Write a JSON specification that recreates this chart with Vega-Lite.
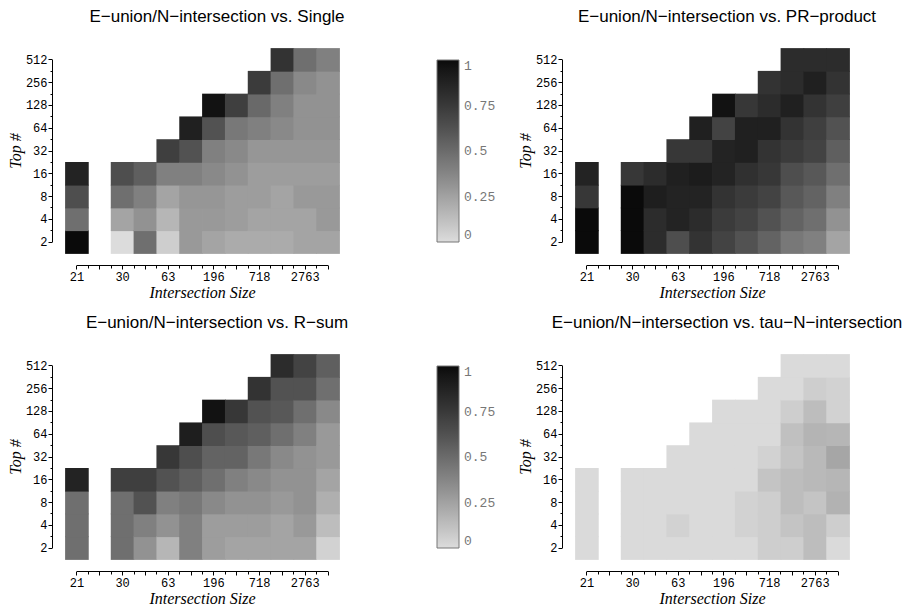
{
  "$schema": "https://vega.github.io/schema/vega-lite/v6.json",
  "background": "white",
  "padding": {"left": 7, "top": 8, "right": 4, "bottom": 4},
  "bounds": "flush",
  "columns": 2,
  "spacing": {"row": 101, "column": 236},
  "config": {
    "view": {"stroke": null},
    "rect": {"binSpacing": 0},
    "title": {"font": "Liberation Sans", "fontSize": 17, "fontWeight": "normal", "color": "black", "dx": 15, "offset": 22, "frame": "group"},
    "axis": {
      "grid": false,
      "domainColor": "black",
      "tickColor": "black",
      "labelColor": "black",
      "labelFont": "Liberation Mono",
      "labelFontSize": 12,
      "titleFont": "Liberation Serif",
      "titleFontStyle": "italic",
      "titleFontWeight": "normal",
      "titleFontSize": 16,
      "titleColor": "black",
      "labelOverlap": false,
      "labelFlush": false
    },
    "axisX": {"offset": 12, "labelPadding": 2, "titlePadding": 2},
    "axisY": {"offset": 13, "labelPadding": 1, "titlePadding": 2},
    "legend": {"labelFont": "Liberation Mono", "labelFontSize": 13, "labelColor": "#777777"}
  },
  "data": {"values": [
    {"p":"s","c":1,"r":1,"v":1.0},{"p":"s","c":1,"r":2,"v":0.48},{"p":"s","c":1,"r":3,"v":0.64},{"p":"s","c":1,"r":4,"v":0.87},
    {"p":"s","c":3,"r":1,"v":0.0},{"p":"s","c":3,"r":2,"v":0.24},{"p":"s","c":3,"r":3,"v":0.48},{"p":"s","c":3,"r":4,"v":0.64},
    {"p":"s","c":4,"r":1,"v":0.48},{"p":"s","c":4,"r":2,"v":0.32},{"p":"s","c":4,"r":3,"v":0.40},{"p":"s","c":4,"r":4,"v":0.56},
    {"p":"s","c":5,"r":1,"v":0.06},{"p":"s","c":5,"r":2,"v":0.16},{"p":"s","c":5,"r":3,"v":0.24},{"p":"s","c":5,"r":4,"v":0.40},{"p":"s","c":5,"r":5,"v":0.72},
    {"p":"s","c":6,"r":1,"v":0.29},{"p":"s","c":6,"r":2,"v":0.29},{"p":"s","c":6,"r":3,"v":0.30},{"p":"s","c":6,"r":4,"v":0.40},{"p":"s","c":6,"r":5,"v":0.62},{"p":"s","c":6,"r":6,"v":0.89},
    {"p":"s","c":7,"r":1,"v":0.24},{"p":"s","c":7,"r":2,"v":0.29},{"p":"s","c":7,"r":3,"v":0.30},{"p":"s","c":7,"r":4,"v":0.36},{"p":"s","c":7,"r":5,"v":0.40},{"p":"s","c":7,"r":6,"v":0.62},{"p":"s","c":7,"r":7,"v":0.97},
    {"p":"s","c":8,"r":1,"v":0.21},{"p":"s","c":8,"r":2,"v":0.27},{"p":"s","c":8,"r":3,"v":0.27},{"p":"s","c":8,"r":4,"v":0.32},{"p":"s","c":8,"r":5,"v":0.36},{"p":"s","c":8,"r":6,"v":0.44},{"p":"s","c":8,"r":7,"v":0.72},
    {"p":"s","c":9,"r":1,"v":0.21},{"p":"s","c":9,"r":2,"v":0.24},{"p":"s","c":9,"r":3,"v":0.27},{"p":"s","c":9,"r":4,"v":0.27},{"p":"s","c":9,"r":5,"v":0.30},{"p":"s","c":9,"r":6,"v":0.40},{"p":"s","c":9,"r":7,"v":0.51},{"p":"s","c":9,"r":8,"v":0.74},
    {"p":"s","c":10,"r":1,"v":0.21},{"p":"s","c":10,"r":2,"v":0.24},{"p":"s","c":10,"r":3,"v":0.24},{"p":"s","c":10,"r":4,"v":0.27},{"p":"s","c":10,"r":5,"v":0.30},{"p":"s","c":10,"r":6,"v":0.36},{"p":"s","c":10,"r":7,"v":0.40},{"p":"s","c":10,"r":8,"v":0.48},{"p":"s","c":10,"r":9,"v":0.78},
    {"p":"s","c":11,"r":1,"v":0.24},{"p":"s","c":11,"r":2,"v":0.24},{"p":"s","c":11,"r":3,"v":0.29},{"p":"s","c":11,"r":4,"v":0.27},{"p":"s","c":11,"r":5,"v":0.30},{"p":"s","c":11,"r":6,"v":0.32},{"p":"s","c":11,"r":7,"v":0.32},{"p":"s","c":11,"r":8,"v":0.36},{"p":"s","c":11,"r":9,"v":0.48},
    {"p":"s","c":12,"r":1,"v":0.24},{"p":"s","c":12,"r":2,"v":0.29},{"p":"s","c":12,"r":3,"v":0.29},{"p":"s","c":12,"r":4,"v":0.27},{"p":"s","c":12,"r":5,"v":0.30},{"p":"s","c":12,"r":6,"v":0.32},{"p":"s","c":12,"r":7,"v":0.32},{"p":"s","c":12,"r":8,"v":0.32},{"p":"s","c":12,"r":9,"v":0.40},

    {"p":"pr","c":1,"r":1,"v":1.0},{"p":"pr","c":1,"r":2,"v":1.0},{"p":"pr","c":1,"r":3,"v":0.76},{"p":"pr","c":1,"r":4,"v":0.87},
    {"p":"pr","c":3,"r":1,"v":1.0},{"p":"pr","c":3,"r":2,"v":1.0},{"p":"pr","c":3,"r":3,"v":1.0},{"p":"pr","c":3,"r":4,"v":0.76},
    {"p":"pr","c":4,"r":1,"v":0.82},{"p":"pr","c":4,"r":2,"v":0.82},{"p":"pr","c":4,"r":3,"v":0.90},{"p":"pr","c":4,"r":4,"v":0.82},
    {"p":"pr","c":5,"r":1,"v":0.64},{"p":"pr","c":5,"r":2,"v":0.87},{"p":"pr","c":5,"r":3,"v":0.87},{"p":"pr","c":5,"r":4,"v":0.89},{"p":"pr","c":5,"r":5,"v":0.76},
    {"p":"pr","c":6,"r":1,"v":0.78},{"p":"pr","c":6,"r":2,"v":0.82},{"p":"pr","c":6,"r":3,"v":0.87},{"p":"pr","c":6,"r":4,"v":0.91},{"p":"pr","c":6,"r":5,"v":0.76},{"p":"pr","c":6,"r":6,"v":0.89},
    {"p":"pr","c":7,"r":1,"v":0.70},{"p":"pr","c":7,"r":2,"v":0.74},{"p":"pr","c":7,"r":3,"v":0.78},{"p":"pr","c":7,"r":4,"v":0.87},{"p":"pr","c":7,"r":5,"v":0.87},{"p":"pr","c":7,"r":6,"v":0.70},{"p":"pr","c":7,"r":7,"v":0.97},
    {"p":"pr","c":8,"r":1,"v":0.62},{"p":"pr","c":8,"r":2,"v":0.70},{"p":"pr","c":8,"r":3,"v":0.74},{"p":"pr","c":8,"r":4,"v":0.80},{"p":"pr","c":8,"r":5,"v":0.89},{"p":"pr","c":8,"r":6,"v":0.89},{"p":"pr","c":8,"r":7,"v":0.76},
    {"p":"pr","c":9,"r":1,"v":0.54},{"p":"pr","c":9,"r":2,"v":0.62},{"p":"pr","c":9,"r":3,"v":0.70},{"p":"pr","c":9,"r":4,"v":0.76},{"p":"pr","c":9,"r":5,"v":0.78},{"p":"pr","c":9,"r":6,"v":0.89},{"p":"pr","c":9,"r":7,"v":0.82},{"p":"pr","c":9,"r":8,"v":0.78},
    {"p":"pr","c":10,"r":1,"v":0.44},{"p":"pr","c":10,"r":2,"v":0.54},{"p":"pr","c":10,"r":3,"v":0.59},{"p":"pr","c":10,"r":4,"v":0.64},{"p":"pr","c":10,"r":5,"v":0.74},{"p":"pr","c":10,"r":6,"v":0.78},{"p":"pr","c":10,"r":7,"v":0.89},{"p":"pr","c":10,"r":8,"v":0.82},{"p":"pr","c":10,"r":9,"v":0.82},
    {"p":"pr","c":11,"r":1,"v":0.40},{"p":"pr","c":11,"r":2,"v":0.48},{"p":"pr","c":11,"r":3,"v":0.54},{"p":"pr","c":11,"r":4,"v":0.59},{"p":"pr","c":11,"r":5,"v":0.70},{"p":"pr","c":11,"r":6,"v":0.72},{"p":"pr","c":11,"r":7,"v":0.78},{"p":"pr","c":11,"r":8,"v":0.89},{"p":"pr","c":11,"r":9,"v":0.82},
    {"p":"pr","c":12,"r":1,"v":0.24},{"p":"pr","c":12,"r":2,"v":0.32},{"p":"pr","c":12,"r":3,"v":0.40},{"p":"pr","c":12,"r":4,"v":0.48},{"p":"pr","c":12,"r":5,"v":0.56},{"p":"pr","c":12,"r":6,"v":0.62},{"p":"pr","c":12,"r":7,"v":0.72},{"p":"pr","c":12,"r":8,"v":0.78},{"p":"pr","c":12,"r":9,"v":0.82},

    {"p":"rs","c":1,"r":1,"v":0.48},{"p":"rs","c":1,"r":2,"v":0.48},{"p":"rs","c":1,"r":3,"v":0.48},{"p":"rs","c":1,"r":4,"v":0.87},
    {"p":"rs","c":3,"r":1,"v":0.48},{"p":"rs","c":3,"r":2,"v":0.48},{"p":"rs","c":3,"r":3,"v":0.48},{"p":"rs","c":3,"r":4,"v":0.72},
    {"p":"rs","c":4,"r":1,"v":0.32},{"p":"rs","c":4,"r":2,"v":0.40},{"p":"rs","c":4,"r":3,"v":0.62},{"p":"rs","c":4,"r":4,"v":0.72},
    {"p":"rs","c":5,"r":1,"v":0.16},{"p":"rs","c":5,"r":2,"v":0.32},{"p":"rs","c":5,"r":3,"v":0.40},{"p":"rs","c":5,"r":4,"v":0.62},{"p":"rs","c":5,"r":5,"v":0.76},
    {"p":"rs","c":6,"r":1,"v":0.40},{"p":"rs","c":6,"r":2,"v":0.40},{"p":"rs","c":6,"r":3,"v":0.44},{"p":"rs","c":6,"r":4,"v":0.56},{"p":"rs","c":6,"r":5,"v":0.64},{"p":"rs","c":6,"r":6,"v":0.90},
    {"p":"rs","c":7,"r":1,"v":0.27},{"p":"rs","c":7,"r":2,"v":0.27},{"p":"rs","c":7,"r":3,"v":0.36},{"p":"rs","c":7,"r":4,"v":0.48},{"p":"rs","c":7,"r":5,"v":0.54},{"p":"rs","c":7,"r":6,"v":0.64},{"p":"rs","c":7,"r":7,"v":0.97},
    {"p":"rs","c":8,"r":1,"v":0.24},{"p":"rs","c":8,"r":2,"v":0.27},{"p":"rs","c":8,"r":3,"v":0.32},{"p":"rs","c":8,"r":4,"v":0.40},{"p":"rs","c":8,"r":5,"v":0.54},{"p":"rs","c":8,"r":6,"v":0.59},{"p":"rs","c":8,"r":7,"v":0.76},
    {"p":"rs","c":9,"r":1,"v":0.24},{"p":"rs","c":9,"r":2,"v":0.27},{"p":"rs","c":9,"r":3,"v":0.32},{"p":"rs","c":9,"r":4,"v":0.36},{"p":"rs","c":9,"r":5,"v":0.44},{"p":"rs","c":9,"r":6,"v":0.56},{"p":"rs","c":9,"r":7,"v":0.62},{"p":"rs","c":9,"r":8,"v":0.78},
    {"p":"rs","c":10,"r":1,"v":0.24},{"p":"rs","c":10,"r":2,"v":0.24},{"p":"rs","c":10,"r":3,"v":0.29},{"p":"rs","c":10,"r":4,"v":0.32},{"p":"rs","c":10,"r":5,"v":0.36},{"p":"rs","c":10,"r":6,"v":0.48},{"p":"rs","c":10,"r":7,"v":0.59},{"p":"rs","c":10,"r":8,"v":0.62},{"p":"rs","c":10,"r":9,"v":0.82},
    {"p":"rs","c":11,"r":1,"v":0.24},{"p":"rs","c":11,"r":2,"v":0.29},{"p":"rs","c":11,"r":3,"v":0.32},{"p":"rs","c":11,"r":4,"v":0.32},{"p":"rs","c":11,"r":5,"v":0.32},{"p":"rs","c":11,"r":6,"v":0.40},{"p":"rs","c":11,"r":7,"v":0.48},{"p":"rs","c":11,"r":8,"v":0.62},{"p":"rs","c":11,"r":9,"v":0.70},
    {"p":"rs","c":12,"r":1,"v":0.04},{"p":"rs","c":12,"r":2,"v":0.13},{"p":"rs","c":12,"r":3,"v":0.19},{"p":"rs","c":12,"r":4,"v":0.24},{"p":"rs","c":12,"r":5,"v":0.29},{"p":"rs","c":12,"r":6,"v":0.29},{"p":"rs","c":12,"r":7,"v":0.36},{"p":"rs","c":12,"r":8,"v":0.48},{"p":"rs","c":12,"r":9,"v":0.56},

    {"p":"tau","c":1,"r":1,"v":0.01},{"p":"tau","c":1,"r":2,"v":0.01},{"p":"tau","c":1,"r":3,"v":0.01},{"p":"tau","c":1,"r":4,"v":0.01},
    {"p":"tau","c":3,"r":1,"v":0.01},{"p":"tau","c":3,"r":2,"v":0.01},{"p":"tau","c":3,"r":3,"v":0.01},{"p":"tau","c":3,"r":4,"v":0.01},
    {"p":"tau","c":4,"r":1,"v":0.01},{"p":"tau","c":4,"r":2,"v":0.01},{"p":"tau","c":4,"r":3,"v":0.01},{"p":"tau","c":4,"r":4,"v":0.01},
    {"p":"tau","c":5,"r":1,"v":0.01},{"p":"tau","c":5,"r":2,"v":0.04},{"p":"tau","c":5,"r":3,"v":0.01},{"p":"tau","c":5,"r":4,"v":0.01},{"p":"tau","c":5,"r":5,"v":0.01},
    {"p":"tau","c":6,"r":1,"v":0.01},{"p":"tau","c":6,"r":2,"v":0.01},{"p":"tau","c":6,"r":3,"v":0.01},{"p":"tau","c":6,"r":4,"v":0.01},{"p":"tau","c":6,"r":5,"v":0.01},{"p":"tau","c":6,"r":6,"v":0.01},
    {"p":"tau","c":7,"r":1,"v":0.01},{"p":"tau","c":7,"r":2,"v":0.01},{"p":"tau","c":7,"r":3,"v":0.01},{"p":"tau","c":7,"r":4,"v":0.01},{"p":"tau","c":7,"r":5,"v":0.01},{"p":"tau","c":7,"r":6,"v":0.01},{"p":"tau","c":7,"r":7,"v":0.01},
    {"p":"tau","c":8,"r":1,"v":0.01},{"p":"tau","c":8,"r":2,"v":0.04},{"p":"tau","c":8,"r":3,"v":0.04},{"p":"tau","c":8,"r":4,"v":0.01},{"p":"tau","c":8,"r":5,"v":0.01},{"p":"tau","c":8,"r":6,"v":0.01},{"p":"tau","c":8,"r":7,"v":0.01},
    {"p":"tau","c":9,"r":1,"v":0.06},{"p":"tau","c":9,"r":2,"v":0.06},{"p":"tau","c":9,"r":3,"v":0.06},{"p":"tau","c":9,"r":4,"v":0.10},{"p":"tau","c":9,"r":5,"v":0.04},{"p":"tau","c":9,"r":6,"v":0.01},{"p":"tau","c":9,"r":7,"v":0.01},{"p":"tau","c":9,"r":8,"v":0.01},
    {"p":"tau","c":10,"r":1,"v":0.06},{"p":"tau","c":10,"r":2,"v":0.10},{"p":"tau","c":10,"r":3,"v":0.13},{"p":"tau","c":10,"r":4,"v":0.13},{"p":"tau","c":10,"r":5,"v":0.10},{"p":"tau","c":10,"r":6,"v":0.12},{"p":"tau","c":10,"r":7,"v":0.06},{"p":"tau","c":10,"r":8,"v":0.01},{"p":"tau","c":10,"r":9,"v":0.01},
    {"p":"tau","c":11,"r":1,"v":0.13},{"p":"tau","c":11,"r":2,"v":0.13},{"p":"tau","c":11,"r":3,"v":0.10},{"p":"tau","c":11,"r":4,"v":0.15},{"p":"tau","c":11,"r":5,"v":0.15},{"p":"tau","c":11,"r":6,"v":0.17},{"p":"tau","c":11,"r":7,"v":0.13},{"p":"tau","c":11,"r":8,"v":0.06},{"p":"tau","c":11,"r":9,"v":0.01},
    {"p":"tau","c":12,"r":1,"v":0.01},{"p":"tau","c":12,"r":2,"v":0.06},{"p":"tau","c":12,"r":3,"v":0.18},{"p":"tau","c":12,"r":4,"v":0.16},{"p":"tau","c":12,"r":5,"v":0.23},{"p":"tau","c":12,"r":6,"v":0.16},{"p":"tau","c":12,"r":7,"v":0.04},{"p":"tau","c":12,"r":8,"v":0.04},{"p":"tau","c":12,"r":9,"v":0.01}
  ]},
  "resolve": {"scale": {"color": "independent"}, "legend": {"color": "independent"}},
  "concat": [
    {
      "width": 274, "height": 205,
      "title": "E−union/N−intersection vs. Single",
      "transform": [{"filter": "datum.p == 's'"}],
      "mark": {"type": "rect", "binSpacing": 0, "xOffset": 0.4, "x2Offset": -0.4, "yOffset": -0.4, "y2Offset": 0.4},
      "encoding": {
        "x": {"field": "c", "type": "quantitative", "bin": {"step": 1, "extent": [0.5, 12.5], "nice": false},
          "scale": {"domain": [1, 12], "range": [11.42, 262.58], "nice": false, "zero": false},
          "axis": {"title": "Intersection Size", "values": [1,1.5,2,2.5,3,3.5,4,4.5,5,5.5,6,6.5,7,7.5,8,8.5,9,9.5,10,10.5,11,11.5,12],
            "labelExpr": "datum.value==1?'21':datum.value==3?'30':datum.value==5?'63':datum.value==7?'196':datum.value==9?'718':datum.value==11?'2763':''",
            "tickSize": {"condition": {"test": "datum.value % 1 == 0", "value": 4}, "value": 3}}},
        "y": {"field": "r", "type": "quantitative", "bin": {"step": 1, "extent": [0.5, 9.5], "nice": false},
          "scale": {"domain": [1, 9], "range": [193.6, 11.4], "nice": false, "zero": false},
          "axis": {"title": "Top #", "values": [1,1.5,2,2.5,3,3.5,4,4.5,5,5.5,6,6.5,7,7.5,8,8.5,9],
            "labelExpr": "datum.value % 1 == 0 ? '' + pow(2, datum.value) : ''",
            "tickSize": {"condition": {"test": "datum.value % 1 == 0", "value": 4}, "value": 2}}},
        "color": {"field": "v", "type": "quantitative", "scale": {"domain": [0, 1], "range": ["#dcdcdc", "#0a0a0a"]},
          "legend": {"orient": "none", "legendX": 372, "legendY": 12, "direction": "vertical", "title": null,
            "gradientLength": 182, "gradientThickness": 22, "values": [0, 0.25, 0.5, 0.75, 1],
            "labelExpr": "'' + datum.value", "labelBaseline": "middle", "labelOffset": 5, "labelOverlap": false,
            "gradientStrokeColor": "#777777", "gradientStrokeWidth": 1}}
      }
    },
    {
      "width": 274, "height": 205,
      "title": "E−union/N−intersection vs. PR−product",
      "transform": [{"filter": "datum.p == 'pr'"}],
      "mark": {"type": "rect", "binSpacing": 0, "xOffset": 0.4, "x2Offset": -0.4, "yOffset": -0.4, "y2Offset": 0.4},
      "encoding": {
        "x": {"field": "c", "type": "quantitative", "bin": {"step": 1, "extent": [0.5, 12.5], "nice": false},
          "scale": {"domain": [1, 12], "range": [11.42, 262.58], "nice": false, "zero": false},
          "axis": {"title": "Intersection Size", "values": [1,1.5,2,2.5,3,3.5,4,4.5,5,5.5,6,6.5,7,7.5,8,8.5,9,9.5,10,10.5,11,11.5,12],
            "labelExpr": "datum.value==1?'21':datum.value==3?'30':datum.value==5?'63':datum.value==7?'196':datum.value==9?'718':datum.value==11?'2763':''",
            "tickSize": {"condition": {"test": "datum.value % 1 == 0", "value": 4}, "value": 3}}},
        "y": {"field": "r", "type": "quantitative", "bin": {"step": 1, "extent": [0.5, 9.5], "nice": false},
          "scale": {"domain": [1, 9], "range": [193.6, 11.4], "nice": false, "zero": false},
          "axis": {"title": "Top #", "values": [1,1.5,2,2.5,3,3.5,4,4.5,5,5.5,6,6.5,7,7.5,8,8.5,9],
            "labelExpr": "datum.value % 1 == 0 ? '' + pow(2, datum.value) : ''",
            "tickSize": {"condition": {"test": "datum.value % 1 == 0", "value": 4}, "value": 2}}},
        "color": {"field": "v", "type": "quantitative", "scale": {"domain": [0, 1], "range": ["#dcdcdc", "#0a0a0a"]}, "legend": null}
      }
    },
    {
      "width": 274, "height": 205,
      "title": "E−union/N−intersection vs. R−sum",
      "transform": [{"filter": "datum.p == 'rs'"}],
      "mark": {"type": "rect", "binSpacing": 0, "xOffset": 0.4, "x2Offset": -0.4, "yOffset": -0.4, "y2Offset": 0.4},
      "encoding": {
        "x": {"field": "c", "type": "quantitative", "bin": {"step": 1, "extent": [0.5, 12.5], "nice": false},
          "scale": {"domain": [1, 12], "range": [11.42, 262.58], "nice": false, "zero": false},
          "axis": {"title": "Intersection Size", "values": [1,1.5,2,2.5,3,3.5,4,4.5,5,5.5,6,6.5,7,7.5,8,8.5,9,9.5,10,10.5,11,11.5,12],
            "labelExpr": "datum.value==1?'21':datum.value==3?'30':datum.value==5?'63':datum.value==7?'196':datum.value==9?'718':datum.value==11?'2763':''",
            "tickSize": {"condition": {"test": "datum.value % 1 == 0", "value": 4}, "value": 3}}},
        "y": {"field": "r", "type": "quantitative", "bin": {"step": 1, "extent": [0.5, 9.5], "nice": false},
          "scale": {"domain": [1, 9], "range": [193.6, 11.4], "nice": false, "zero": false},
          "axis": {"title": "Top #", "values": [1,1.5,2,2.5,3,3.5,4,4.5,5,5.5,6,6.5,7,7.5,8,8.5,9],
            "labelExpr": "datum.value % 1 == 0 ? '' + pow(2, datum.value) : ''",
            "tickSize": {"condition": {"test": "datum.value % 1 == 0", "value": 4}, "value": 2}}},
        "color": {"field": "v", "type": "quantitative", "scale": {"domain": [0, 1], "range": ["#dcdcdc", "#0a0a0a"]},
          "legend": {"orient": "none", "legendX": 372, "legendY": 12, "direction": "vertical", "title": null,
            "gradientLength": 182, "gradientThickness": 22, "values": [0, 0.25, 0.5, 0.75, 1],
            "labelExpr": "'' + datum.value", "labelBaseline": "middle", "labelOffset": 5, "labelOverlap": false,
            "gradientStrokeColor": "#777777", "gradientStrokeWidth": 1}}
      }
    },
    {
      "width": 274, "height": 205,
      "title": "E−union/N−intersection vs. tau−N−intersection",
      "transform": [{"filter": "datum.p == 'tau'"}],
      "mark": {"type": "rect", "binSpacing": 0, "xOffset": 0.4, "x2Offset": -0.4, "yOffset": -0.4, "y2Offset": 0.4},
      "encoding": {
        "x": {"field": "c", "type": "quantitative", "bin": {"step": 1, "extent": [0.5, 12.5], "nice": false},
          "scale": {"domain": [1, 12], "range": [11.42, 262.58], "nice": false, "zero": false},
          "axis": {"title": "Intersection Size", "values": [1,1.5,2,2.5,3,3.5,4,4.5,5,5.5,6,6.5,7,7.5,8,8.5,9,9.5,10,10.5,11,11.5,12],
            "labelExpr": "datum.value==1?'21':datum.value==3?'30':datum.value==5?'63':datum.value==7?'196':datum.value==9?'718':datum.value==11?'2763':''",
            "tickSize": {"condition": {"test": "datum.value % 1 == 0", "value": 4}, "value": 3}}},
        "y": {"field": "r", "type": "quantitative", "bin": {"step": 1, "extent": [0.5, 9.5], "nice": false},
          "scale": {"domain": [1, 9], "range": [193.6, 11.4], "nice": false, "zero": false},
          "axis": {"title": "Top #", "values": [1,1.5,2,2.5,3,3.5,4,4.5,5,5.5,6,6.5,7,7.5,8,8.5,9],
            "labelExpr": "datum.value % 1 == 0 ? '' + pow(2, datum.value) : ''",
            "tickSize": {"condition": {"test": "datum.value % 1 == 0", "value": 4}, "value": 2}}},
        "color": {"field": "v", "type": "quantitative", "scale": {"domain": [0, 1], "range": ["#dcdcdc", "#0a0a0a"]}, "legend": null}
      }
    }
  ]
}
